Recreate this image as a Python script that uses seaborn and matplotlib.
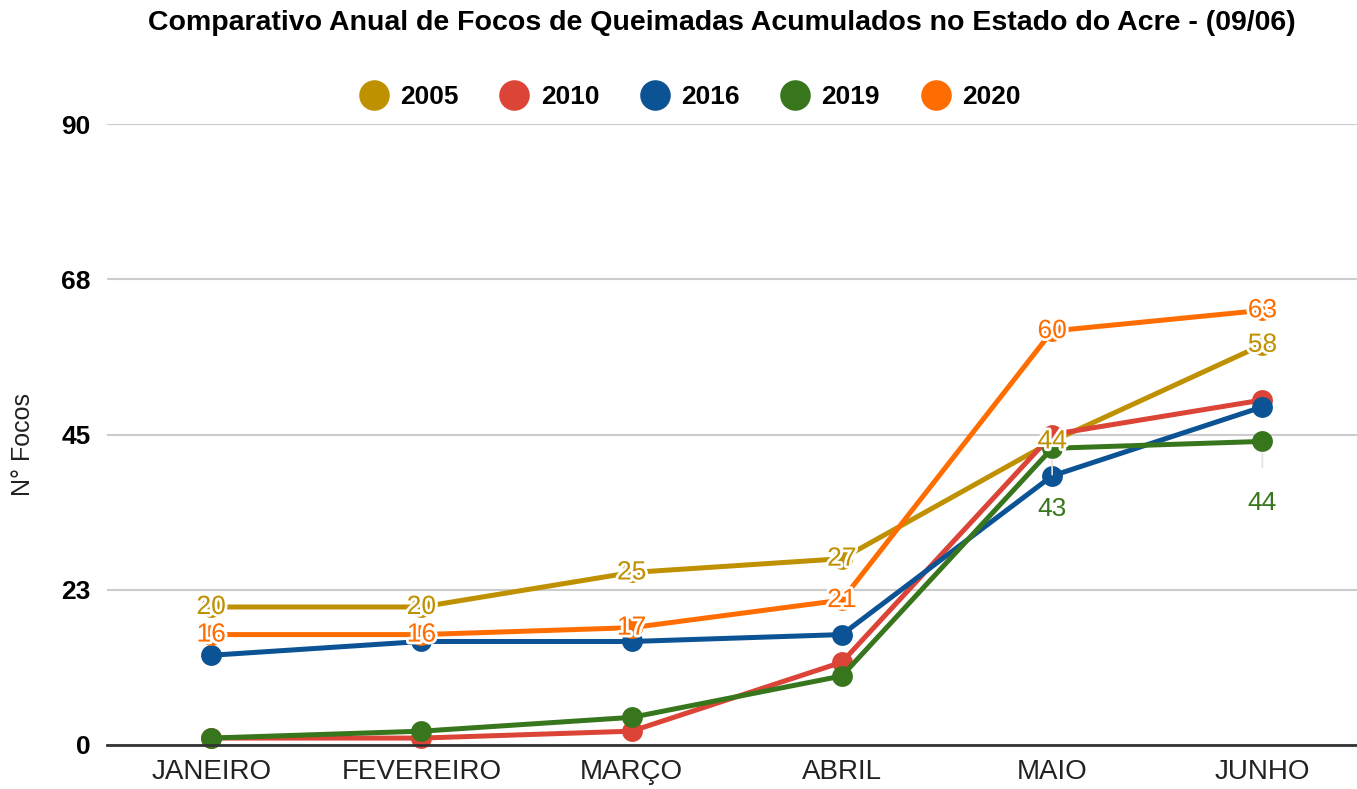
import matplotlib
matplotlib.use('Agg')
import matplotlib.pyplot as plt
import matplotlib.patheffects as pe
from matplotlib.lines import Line2D
import pandas as pd
import seaborn as sns

# Dados
meses = ["JANEIRO", "FEVEREIRO", "MARÇO", "ABRIL", "MAIO", "JUNHO"]
anos = ["2005", "2010", "2016", "2019", "2020"]
focos_2005 = [20, 20, 25, 27, 44, 58]
focos_2010 = [1, 1, 2, 12, 45, 50]
focos_2016 = [13, 15, 15, 16, 39, 49]
focos_2019 = [1, 2, 4, 10, 43, 44]
focos_2020 = [16, 16, 17, 21, 60, 63]
cores = ["#BF9000", "#DB4437", "#0B5394", "#38761D", "#FF6D01"]
y_ticks = [0, 22.5, 45, 67.5, 90]
y_tick_labels = ["0", "23", "45", "68", "90"]

series = {"2005": focos_2005, "2010": focos_2010, "2016": focos_2016,
          "2019": focos_2019, "2020": focos_2020}
rows = []
for ano, vals in series.items():
    for i, v in enumerate(vals):
        rows.append({"mes": i, "ano": ano, "focos": v})
df = pd.DataFrame(rows)
palette = dict(zip(anos, cores))

sns.set_theme(style="white")
plt.rcParams['font.family'] = ['Liberation Sans', 'DejaVu Sans']
plt.rcParams['text.color'] = 'black'

fig = plt.figure(figsize=(13.57, 7.89), dpi=100)
ax = fig.add_axes([0.0789, 0.0558, 0.9211, 0.787])

sns.lineplot(data=df, x="mes", y="focos", hue="ano", hue_order=anos, palette=palette,
             marker="o", markersize=15, markeredgewidth=0, linewidth=3.6,
             legend=False, ax=ax, clip_on=False)

ax.set_xlim(-0.495, 5.45)
ax.set_ylim(0, 90)
ax.set_yticks(y_ticks)
ax.set_yticklabels(y_tick_labels, fontweight="bold", fontsize=19)
ax.set_xticks(range(len(meses)))
ax.set_xticklabels(meses, fontsize=20)
ax.tick_params(axis="x", length=0, pad=10, colors="#222222")
ax.tick_params(axis="y", length=0, pad=12, colors="black")
ax.grid(axis="y", color="#cccccc", linewidth=1.5)
ax.set_axisbelow(True)
for s in ["top", "right", "left"]:
    ax.spines[s].set_visible(False)
ax.spines["bottom"].set_color("#333333")
ax.spines["bottom"].set_linewidth(2)
ax.set_xlabel("")
ax.set_ylabel("")

halo = [pe.withStroke(linewidth=4, foreground="white")]

# rótulos centrados nos pontos (2005 e 2020)
for ano in ["2005", "2020"]:
    for i, v in enumerate(series[ano]):
        ax.text(i, v, str(v), color=palette[ano], fontsize=19, ha="center", va="center",
                path_effects=halo, zorder=10)

# rótulos abaixo (2019, maio e junho)
for i in [4, 5]:
    v = focos_2019[i]
    ax.annotate(str(v), xy=(i, v), xytext=(0, -44), textcoords="offset points",
                color=palette["2019"], fontsize=19, ha="center", va="center", zorder=10,
                arrowprops=dict(arrowstyle="-", color="#e3e3e3", lw=1.2,
                                shrinkA=14, shrinkB=8))

fig.text(0.532, 0.971, "Comparativo Anual de Focos de Queimadas Acumulados no Estado do Acre - (09/06)",
         ha="center", va="center", fontsize=20.5, fontweight="bold", color="black")
fig.text(0.017, 0.436, "N° Focos", rotation=90, ha="center", va="center", fontsize=18,
         color="#222222")

handles = [Line2D([0], [0], marker="o", color="none", markerfacecolor=c, markeredgewidth=0,
                  markersize=22) for c in cores]
leg = fig.legend(handles, anos, loc="center", bbox_to_anchor=(0.508, 0.877), ncol=5,
                 frameon=False, prop={"weight": "bold", "size": 19},
                 handletextpad=0.4, columnspacing=1.5, handlelength=1.2)

fig.savefig("out.png", dpi=100)
